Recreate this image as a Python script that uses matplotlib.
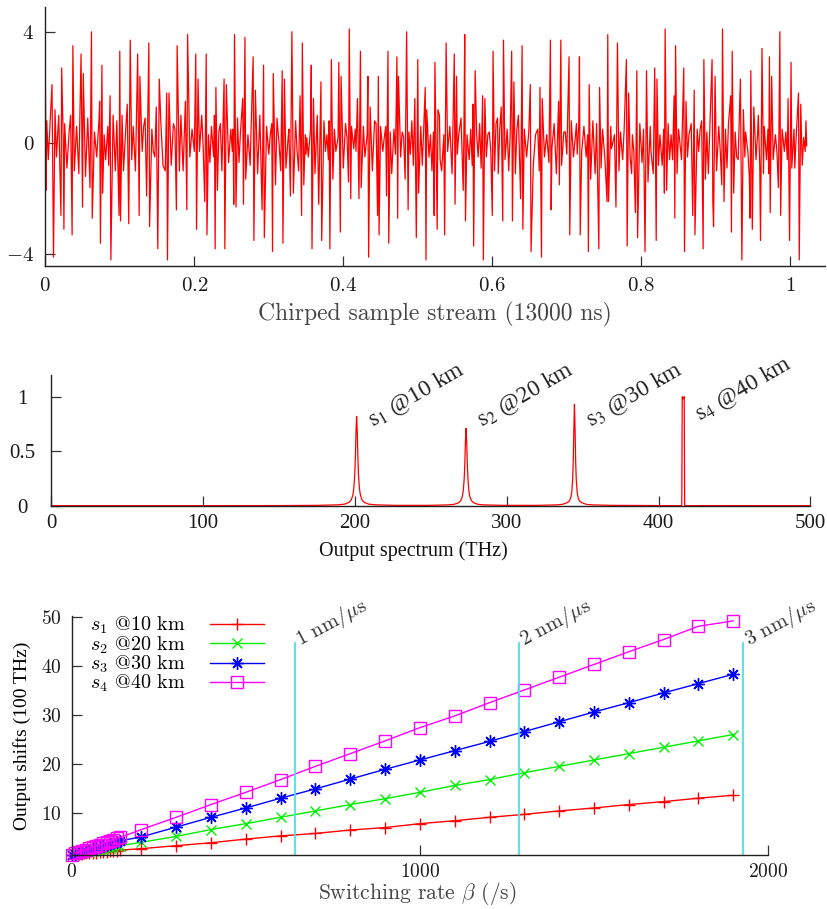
import numpy as np
import matplotlib
matplotlib.use("Agg")
from matplotlib import pyplot as plt
from matplotlib.ticker import FuncFormatter

# ---- top panel: chirped sample stream, (sample index, amplitude)
stream_a = [(0, 3.0), (1, -1.7), (2, 0.8), (4, -0.6), (6, 0.5), (9, 2.1), (11, -4.1), (13, 1.2), (15, -0.5),
            (18, 1.0), (21, -2.6), (22, 2.7), (24, 0.2), (25, -3.1), (26, 0.7), (29, -0.9), (32, 0.4), (34, 1.0),
            (36, -3.3), (37, 3.5), (39, -1.0), (42, 0.6), (45, -1.1), (48, 3.2), (50, -2.3), (51, 2.5), (54, -1.2),
            (57, 0.9), (60, -1.6), (62, 4.0), (63, -2.7), (66, 0.4), (69, -0.5), (72, 0.8), (73, 1.5), (74, -3.6),
            (76, 2.8), (77, -1.8), (79, 0.3), (81, -0.6), (84, 0.6), (85, -0.8), (87, 1.7), (88, -4.2), (91, 1.0),
            (94, -1.0), (96, 0.8), (99, -2.6), (100, 3.3), (101, -2.8), (103, 1.0), (105, -1.0), (108, 0.5),
            (110, 1.4), (112, -2.9), (114, 3.7), (116, -0.6), (118, 0.6), (121, -1.0), (124, 3.2), (126, -2.6),
            (127, 2.4), (130, -0.3), (132, 0.6), (134, 0.9), (136, -1.9), (139, 3.6), (140, -3.0), (143, 0.5),
            (145, -0.3), (147, -0.5), (149, 1.3), (151, -3.8), (153, 2.3), (155, 0.8), (158, -0.8), (161, -1.0),
            (163, 1.8), (164, -4.2), (166, 1.8), (169, -0.8), (172, 0.7), (174, 0.5), (176, -2.4), (177, 3.5),
            (180, -1.0), (182, 1.0), (185, -1.0), (188, 1.5), (190, -2.4), (191, 3.9), (194, -0.5), (197, 0.5),
            (200, -0.3), (202, 3.2), (203, -3.1), (205, 2.3), (207, -0.3), (210, 1.0), (212, -0.2), (214, -2.1),
            (216, 3.2), (217, -3.3), (219, 0.3), (221, -0.7), (223, 0.6), (226, -0.5), (227, 1.0), (228, -3.8),
            (229, 2.0), (231, -1.7), (233, 0.4), (235, 0.7), (237, -1.0), (240, 2.3), (241, -3.8), (243, 2.1),
            (246, -0.7), (249, 0.5), (251, -0.3), (252, 0.5), (253, -2.2), (254, 3.9), (256, -2.3), (258, 0.9)]
stream_b = [(260, -0.7), (262, 0.4), (265, 1.6), (266, -2.2), (268, 3.8), (269, -1.3), (272, 0.3), (275, -0.8),
            (276, 0.3), (279, 3.1), (280, -3.5), (282, 1.9), (285, -1.1), (288, 1.0), (291, -2.4), (293, 2.8),
            (294, -3.4), (297, 0.6), (300, -0.4), (302, 0.3), (304, 0.7), (305, -3.9), (306, 2.5), (309, -1.5),
            (311, 0.9), (314, -0.1), (316, -1.0), (318, 2.6), (319, -3.6), (321, 2.3), (323, -0.9), (326, 0.2),
            (327, 0.5), (329, -1.9), (331, 4.0), (333, -1.8), (336, 0.8), (338, -0.3), (340, -1.0), (342, 1.7),
            (344, -2.6), (345, 3.6), (347, -1.5), (349, 0.3), (350, -0.4), (351, 0.2), (353, -0.5), (356, 0.5),
            (357, 2.8), (358, -3.8), (360, 1.6), (362, -1.1), (365, 1.0), (367, -2.2), (370, 2.2), (371, -3.5),
            (374, 0.8), (376, -0.3), (378, 0.3), (380, -0.6), (381, 0.8), (382, -3.8), (384, 3.0), (386, -1.3),
            (388, 0.5), (390, -0.3), (393, 0.2), (394, 2.9), (396, -3.2), (397, 2.4), (400, -0.9), (403, 0.7),
            (405, 0.2), (407, -1.4), (408, 4.1), (410, -2.0), (411, 0.6), (414, -0.2), (416, 0.5), (417, -0.3),
            (419, 1.6), (421, -2.0), (423, 3.3), (424, -1.6), (427, 0.6), (429, -0.5), (432, 0.3), (433, 2.4),
            (434, -4.1), (436, 1.3), (439, -1.0), (442, 0.8), (444, 0.7), (446, -2.6), (447, 2.4), (448, -3.3),
            (450, 0.6), (453, -0.3), (455, 0.2), (457, 0.6), (458, -1.9), (460, 3.3), (461, -3.6), (463, 0.4),
            (465, -1.1), (468, 0.5), (470, -0.4), (472, 3.1), (473, -2.7), (474, 2.4), (477, -0.5), (479, 0.4),
            (481, 0.2), (483, -1.3), (485, 4.0), (487, -2.4), (488, 0.4), (490, -0.4), (492, 0.8), (494, -0.8),
            (496, 1.6), (498, -3.4), (500, 3.0), (501, -1.8), (504, 0.6), (506, -0.8), (508, 0.6), (510, 2.0),
            (511, -4.2), (512, 1.2), (515, -0.5), (517, 0.3), (519, -1.0), (521, 0.4), (522, -2.6), (523, 2.9)]
stream_c = [(526, -3.1), (527, 1.2), (529, 1.0), (530, -0.6), (532, -1.0), (535, 0.3), (536, -3.3), (538, 3.6),
            (540, -0.3), (543, 0.6), (545, -0.5), (546, -1.1), (549, 3.2), (550, -2.2), (552, 2.4), (553, -0.4),
            (555, 0.3), (558, 0.9), (561, -1.7), (562, 0.7), (563, 3.9), (564, -2.8), (566, 0.3), (569, -0.6),
            (571, 0.5), (573, -0.8), (574, 1.4), (575, -3.7), (577, 2.6), (579, 0.3), (581, -0.5), (583, 0.7),
            (585, -0.9), (587, 1.7), (588, -4.2), (590, 1.6), (592, -0.5), (594, 0.3), (596, 0.4), (598, -0.3),
            (600, -2.6), (601, 3.3), (603, -1.0), (605, 0.7), (607, 0.9), (608, -1.1), (610, 0.5), (612, 1.3),
            (614, -2.8), (615, 3.7), (617, -0.6), (620, 0.5), (622, -1.0), (624, 0.3), (626, 3.3), (627, -2.8),
            (629, 2.2), (631, -1.1), (633, 0.5), (635, 1.0), (638, -2.0), (640, 3.5), (641, -3.1), (643, 0.5),
            (646, -0.5), (649, 0.4), (651, 2.1), (652, -3.9), (655, -0.8), (658, 0.3), (661, 0.5), (663, -1.0),
            (664, 2.0), (666, -4.1), (667, 1.6), (670, -0.5), (673, 0.3), (676, -0.7), (678, 3.7), (679, -2.4),
            (680, -0.2), (683, 0.7), (686, -1.1), (689, 1.5), (690, -1.5), (692, 3.7), (693, -0.8), (696, 0.4),
            (698, 0.4), (700, -0.4), (703, 3.1), (704, -3.3), (706, 0.8), (709, -0.5), (713, 0.7), (714, -0.4),
            (716, 0.6), (717, 3.1), (718, -3.3), (720, -0.3), (723, 0.6), (726, -0.5), (728, 0.3), (729, -3.9),
            (730, 2.1), (732, -1.3), (735, 0.8), (738, -1.1), (740, 0.7), (743, -3.8), (744, 2.0), (746, -0.9),
            (748, 0.5), (751, -0.5), (754, -2.1), (755, 3.9), (756, -2.1), (759, 0.6), (760, -0.2), (764, 0.3),
            (766, -2.3), (768, 3.6), (770, -1.0), (772, 0.4), (775, -0.6), (777, 0.5), (780, 3.0), (781, -3.7)]
stream_d = [(783, 1.8), (785, -0.5), (787, -1.1), (788, 0.3), (790, -0.3), (792, -2.5), (794, 2.6), (795, -3.4),
            (798, 0.7), (801, -0.7), (803, 0.5), (805, -3.9), (807, 2.6), (809, -1.4), (812, 0.6), (813, -0.3),
            (816, -1.1), (818, 2.7), (820, -3.5), (821, 2.3), (823, -0.8), (825, 0.3), (828, -0.8), (830, 0.5),
            (831, -1.8), (832, 4.1), (834, -1.7), (836, 0.7), (838, -0.6), (840, 0.3), (842, -0.6), (844, 1.7),
            (845, -2.7), (846, 3.5), (848, -1.1), (850, 0.5), (853, -0.3), (854, -0.6), (857, 2.7), (858, -3.9),
            (860, 1.5), (862, -0.5), (864, 0.3), (867, 0.7), (869, -2.6), (871, 1.9), (872, -3.3), (875, 0.5),
            (877, -0.3), (879, 0.5), (881, 0.8), (883, -3.8), (884, 3.0), (886, -1.3), (888, 0.4), (890, -1.1),
            (892, 0.5), (895, 3.0), (896, -2.1), (897, -3.0), (899, 2.4), (901, -1.0), (904, 0.6), (906, -0.3),
            (908, -1.5), (909, 4.1), (911, -2.1), (913, 0.5), (915, -0.9), (917, 0.7), (920, 1.7), (921, -3.2),
            (922, 3.3), (924, -1.8), (926, 0.4), (928, -0.5), (930, -0.6), (933, 2.3), (935, -4.2), (937, 1.2),
            (939, -0.5), (940, 0.4), (943, -0.3), (945, -1.2), (946, -2.7), (947, 2.6), (949, -3.1), (951, 1.3),
            (954, -0.6), (956, 0.3), (957, 1.0), (959, -0.8), (960, -3.5), (962, 3.4), (964, -1.1), (965, 0.6),
            (968, -0.6), (970, 0.5), (971, -1.1), (972, 3.1), (973, -2.5), (975, 2.4), (977, -0.6), (980, 0.3),
            (982, -0.3), (984, -1.6), (986, 4.0), (987, -2.6), (989, 0.5), (992, -0.3), (994, 0.4), (996, -0.6),
            (997, 1.6), (999, -3.5), (1001, 2.9), (1002, -0.9), (1005, 0.5), (1006, -0.9), (1008, 0.3), (1011, 1.8),
            (1012, -4.2), (1014, 1.4), (1016, -0.8), (1018, 0.2), (1020, -0.3), (1021, 0.8), (1022, -0.1)]

# ---- middle panel: output spectrum
spec_thz = [0, 100, 150,
            176.1, 189.1, 193.1, 196.1, 197.6, 198.6, 199.3, 199.9, 200.3, 200.7, 201.1,
            201.5, 201.9, 202.3, 202.9, 203.6, 204.6, 206.1, 209.1, 213.1, 226.1,
            248.2, 261.2, 265.2, 268.2, 269.7, 270.7, 271.4, 272.0, 272.4, 272.8, 273.2,
            273.6, 274.0, 274.4, 275.0, 275.7, 276.7, 278.2, 281.2, 285.2, 298.2,
            319.6, 332.6, 336.6, 339.6, 341.1, 342.1, 342.8, 343.4, 343.8, 344.2, 344.6,
            345.0, 345.4, 345.8, 346.4, 347.1, 348.1, 349.6, 352.6, 356.6, 369.6,
            400, 415.3, 415.6, 416.2, 416.9, 417.2, 430, 500]
spec_amp = [0.0, 0.0004, 0.001,
            0.003, 0.008, 0.014, 0.03, 0.055, 0.096, 0.164, 0.295, 0.458, 0.685, 0.82,
            0.685, 0.458, 0.295, 0.164, 0.096, 0.055, 0.03, 0.014, 0.008, 0.003,
            0.003, 0.007, 0.012, 0.026, 0.047, 0.083, 0.142, 0.255, 0.397, 0.593, 0.71,
            0.593, 0.397, 0.255, 0.142, 0.083, 0.047, 0.026, 0.012, 0.007, 0.003,
            0.003, 0.007, 0.012, 0.026, 0.04, 0.07, 0.122, 0.236, 0.403, 0.701, 0.93,
            0.701, 0.403, 0.236, 0.122, 0.07, 0.04, 0.026, 0.012, 0.007, 0.003,
            0.001, 0.0, 1.0, 0.98, 1.0, 0.0, 0.0008, 0.0003]
peak_thz = [201.1, 273.2, 344.6, 416.2]
peak_names = [r"$\mathrm{s}_1$ @10 km", r"$\mathrm{s}_2$ @20 km",
              r"$\mathrm{s}_3$ @30 km", r"$\mathrm{s}_4$ @40 km"]

# ---- bottom panel: output shifts vs switching rate
rate = [0, 10, 20, 30, 40, 50, 60, 70, 80, 90, 100, 110, 120, 130, 140,
        200, 300, 400, 500, 600, 700, 800, 900, 1000, 1100, 1200, 1300, 1400, 1500, 1600, 1700, 1800, 1900]
shift_s1 = [1.6, 1.7, 1.7, 1.8, 1.9, 1.9, 2.0, 2.0, 2.1, 2.2, 2.2, 2.3, 2.3, 2.4, 2.5,
            2.8, 3.4, 4.0, 4.75, 5.4, 5.9, 6.6, 7.1, 7.9, 8.5, 9.2, 9.8, 10.5, 11.1, 11.8, 12.4, 13.1, 13.7]
shift_s2 = [1.6, 1.7, 1.8, 1.9, 2.1, 2.2, 2.3, 2.5, 2.6, 2.7, 2.9, 3.0, 3.1, 3.3, 3.4,
            4.1, 5.3, 6.7, 7.9, 9.2, 10.5, 11.8, 13.0, 14.3, 15.7, 16.9, 18.3, 19.6, 20.9, 22.2, 23.5, 24.8, 26.1]
shift_s3 = [1.6, 1.8, 2.0, 2.2, 2.4, 2.6, 2.8, 3.0, 3.2, 3.4, 3.6, 3.8, 4.0, 4.2, 4.4,
            5.2, 7.2, 9.2, 11.1, 13.1, 15.0, 17.0, 19.0, 20.9, 22.8, 24.7, 26.7, 28.7, 30.7, 32.6, 34.6, 36.5, 38.4]
shift_s4 = [1.6, 1.9, 2.1, 2.4, 2.6, 2.9, 3.1, 3.4, 3.6, 3.9, 4.1, 4.4, 4.6, 4.9, 5.1,
            6.7, 9.2, 11.8, 14.3, 16.9, 19.6, 22.2, 24.8, 27.5, 29.9, 32.6, 35.2, 37.8, 40.4, 43.0, 45.5, 48.2, 49.3]
series_labels = [r"$s_1$ @10 km", r"$s_2$ @20 km", r"$s_3$ @30 km", r"$s_4$ @40 km"]
sweep_rate = [640, 1284, 1929]
sweep_labels = [r"$1\ \mathrm{nm}/\mu\mathrm{s}$", r"$2\ \mathrm{nm}/\mu\mathrm{s}$",
                r"$3\ \mathrm{nm}/\mu\mathrm{s}$"]

plt.rcParams["font.family"] = ["cmr10", "DejaVu Serif"]
plt.rcParams["mathtext.fontset"] = "cm"
plt.rcParams["axes.formatter.use_mathtext"] = True

TIMES = "Liberation Serif"
math_fmt = FuncFormatter(lambda v, p: f"${v:g}$")
plain_fmt = FuncFormatter(lambda v, p: f"{v:g}")


def tidy(ax):
    for side in ("top", "right"):
        ax.spines[side].set_visible(False)
    for side in ("left", "bottom"):
        ax.spines[side].set_linewidth(1.0)
        ax.spines[side].set_color("#222222")
    ax.tick_params(direction="in", length=7, width=0.9, color="#333333",
                   labelcolor="#1a1a1a", top=False, right=False)


fig = plt.figure(figsize=(8.28, 9.09), dpi=100)

# top: sample stream
ax1 = fig.add_axes([0.0547, 0.707, 0.9417, 0.2856])
pairs = np.array(sorted(stream_a + stream_b + stream_c + stream_d))
ax1.plot(pairs[:, 0] / 1000.0, pairs[:, 1], color="#ff0000", lw=0.9)
ax1.set_xlim(0, 1.0466)
ax1.set_ylim(-4.43, 4.9)
ax1.set_xticks([0, 0.2, 0.4, 0.6, 0.8, 1.0])
ax1.set_yticks([-4, 0, 4])
ax1.xaxis.set_major_formatter(math_fmt)
ax1.yaxis.set_major_formatter(math_fmt)
tidy(ax1)
ax1.tick_params(labelsize=15, pad=8)
ax1.set_xlabel("Chirped sample stream (13000 ns)", fontsize=17, color="#444444", va="center")
ax1.xaxis.set_label_coords(0.5, -0.185)

# middle: spectrum
ax2 = fig.add_axes([0.062, 0.4437, 0.9167, 0.1438])
ax2.plot(spec_thz, spec_amp, color="#ff0000", lw=0.9, clip_on=False)
ax2.set_xlim(0, 500)
ax2.set_ylim(0, 1.2)
ax2.set_xticks([0, 100, 200, 300, 400, 500])
ax2.set_yticks([0, 0.5, 1])
ax2.xaxis.set_major_formatter(plain_fmt)
ax2.yaxis.set_major_formatter(plain_fmt)
tidy(ax2)
ax2.tick_params(labelsize=15, labelfontfamily=TIMES)
ax2.tick_params(axis="x", pad=6)
ax2.tick_params(axis="y", pad=21)
for lab in ax2.get_yticklabels():
    lab.set_ha("center")
for xc, name, yl in zip(peak_thz, peak_names, [0.727, 0.727, 0.727, 0.78]):
    ax2.text(xc + 10.5, yl, name, fontsize=17, family=TIMES, math_fontfamily="stix",
             rotation=30, rotation_mode="anchor", ha="left", va="baseline", color="#222222")
ax2.set_xlabel("Output spectrum (THz)", fontsize=14.5, family=TIMES, va="center", color="#111111")
ax2.xaxis.set_label_coords(0.477, -0.347)

# bottom: output shifts
ax3 = fig.add_axes([0.0866, 0.0594, 0.841, 0.2624])
styles = [dict(color="#ff0000", marker="+", ms=9),
          dict(color="#00ee00", marker="x", ms=7.5),
          dict(color="#0000ff", marker=(8, 2, 0), ms=9),
          dict(color="#ff00ff", marker="s", ms=8, mfc="none")]
for ys, lab, st in zip([shift_s1, shift_s2, shift_s3, shift_s4], series_labels, styles):
    ax3.plot(rate, ys, lw=1.0, mew=1.0, label=lab, clip_on=False, **st)
ax3.vlines(sweep_rate, 1.5, 45, color="#3ee6f0", lw=1.3)
for xr, lab in zip(sweep_rate, sweep_labels):
    ax3.text(xr + 15, 44.3, lab, fontsize=15, rotation=28, rotation_mode="anchor",
             ha="left", va="baseline", color="#333333")
ax3.set_xlim(0, 2000)
ax3.set_ylim(1.5, 50.2)
ax3.set_xticks([0, 1000, 2000])
ax3.set_yticks([10, 20, 30, 40, 50])
ax3.xaxis.set_major_formatter(math_fmt)
ax3.yaxis.set_major_formatter(math_fmt)
tidy(ax3)
ax3.tick_params(labelsize=14)
ax3.tick_params(axis="x", pad=6)
ax3.tick_params(axis="y", pad=7)
ax3.set_xlabel(r"Switching rate $\beta$ (/s)", fontsize=15.5, color="#444444", va="center")
ax3.xaxis.set_label_coords(0.497, -0.163)
ax3.set_ylabel("Output shifts (100 THz)", fontsize=14, family=TIMES, va="center")
ax3.yaxis.set_label_coords(-0.0714, 0.5)
ax3.legend(loc="upper left", bbox_to_anchor=(0.026, 1.007), frameon=False, markerfirst=False,
           fontsize=14.5, handlelength=2.7, handletextpad=1.2, labelspacing=-0.1,
           borderaxespad=0, borderpad=0)

fig.savefig("out.png", dpi=100)
